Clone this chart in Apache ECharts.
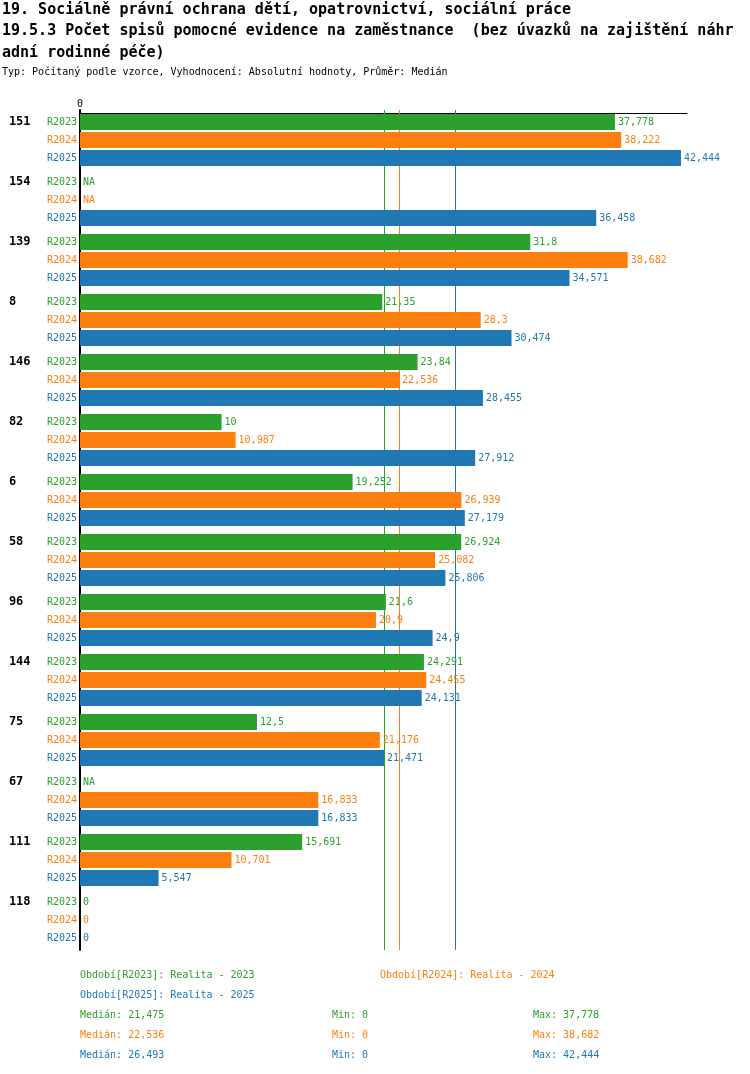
<!DOCTYPE html>
<html>
<head>
<meta charset="UTF-8">
<title>19.5.3</title>
<script src="https://cdn.jsdelivr.net/npm/echarts@6/dist/echarts.min.js"></script>
<style>
    *{ padding: 0; margin: 0; }
    html, body { background: #fff; }
    #main{ width: 750px; height: 1074px; }
</style>
</head>
<body>
<div id="main"></div>
<script>
// skupiny (shora dolu)
var categories = ['151', '154', '139', '8', '146', '82', '6', '58', '96', '144', '75', '67', '111', '118'];
var periods = ['R2023', 'R2024', 'R2025'];
// null = NA
var r2023 = [37.778, null, 31.8, 21.35, 23.84, 10, 19.252, 26.924, 21.6, 24.291, 12.5, null, 15.691, 0];
var r2024 = [38.222, null, 38.682, 28.3, 22.536, 10.987, 26.939, 25.082, 20.9, 24.455, 21.176, 16.833, 10.701, 0];
var r2025 = [42.444, 36.458, 34.571, 30.474, 28.455, 27.912, 27.179, 25.806, 24.9, 24.131, 21.471, 16.833, 5.547, 0];
var medians = [21.475, 22.536, 26.493];
var legendTexts = ['Období[R2023]: Realita - 2023', 'Období[R2024]: Realita - 2024', 'Období[R2025]: Realita - 2025'];

var colors = ['#2ca02c', '#ff7f0e', '#1f77b4'];
var MONO = '"DejaVu Sans Mono", monospace';
var seriesVals = [r2023, r2024, r2025];

function fmt(v) {
    return String(v).replace('.', ',');
}
function maxOf(arr) {
    var m = 0;
    for (var i = 0; i < arr.length; i++) {
        if (arr[i] !== null && arr[i] > m) m = arr[i];
    }
    return m;
}
var xMax = Math.max(maxOf(r2023), maxOf(r2024), maxOf(r2025)) * 1.01;

var myChart = echarts.init(document.getElementById('main'));

var series = [];
for (var s = 0; s < 3; s++) {
    series.push({
        name: periods[s],
        type: 'bar',
        z: 3,
        barWidth: 16,
        barGap: '12.5%',
        itemStyle: { color: colors[s] },
        label: {
            show: true,
            position: 'right',
            distance: 3,
            color: colors[s],
            fontFamily: MONO,
            fontSize: 10,
            formatter: function (p) { return fmt(p.value); }
        },
        // medianova cara pod sloupci
        markLine: {
            z: 1,
            silent: true,
            symbol: 'none',
            label: { show: false },
            lineStyle: { color: colors[s], type: 'solid', width: 1 },
            data: [{ xAxis: medians[s], lineStyle: { color: colors[s] } }]
        },
        data: seriesVals[s].map(function (v) {
            return v === null ? { value: 0, label: { formatter: 'NA' } } : v;
        })
    });
}

// popisky dole
var graphics = [];
function addText(x, y, text, color) {
    graphics.push({
        type: 'text', left: x, top: y,
        style: { text: text, fill: color, font: '10px ' + MONO }
    });
}
addText(80, 970, legendTexts[0], colors[0]);
addText(380, 970, legendTexts[1], colors[1]);
addText(80, 990, legendTexts[2], colors[2]);
for (var k = 0; k < 3; k++) {
    addText(80, 1010 + k * 20, 'Medián: ' + fmt(medians[k]), colors[k]);
    addText(332, 1010 + k * 20, 'Min: 0', colors[k]);
    addText(533, 1010 + k * 20, 'Max: ' + fmt(maxOf(seriesVals[k])), colors[k]);
}

var option = {
    animation: false,
    backgroundColor: '#fff',
    title: {
        text: '19. Sociálně právní ochrana dětí, opatrovnictví, sociální práce\n' +
              '19.5.3 Počet spisů pomocné evidence na zaměstnance  (bez úvazků na zajištění náhr\n' +
              'adní rodinné péče)',
        subtext: 'Typ: Počítaný podle vzorce, Vyhodnocení: Absolutní hodnoty, Průměr: Medián',
        left: 2,
        top: -1,
        padding: 0,
        itemGap: 2,
        textStyle: { fontFamily: MONO, fontSize: 15, fontWeight: 'bold', color: '#000', lineHeight: 21.5 },
        subtextStyle: { fontFamily: MONO, fontSize: 10, color: '#000', lineHeight: 14 }
    },
    grid: { left: 80, right: 63, top: 110, height: 840, containLabel: false },
    xAxis: {
        type: 'value',
        position: 'top',
        offset: -3,
        min: 0,
        max: xMax,
        interval: xMax,
        axisLine: { show: true, lineStyle: { color: '#000', width: 1 } },
        axisTick: { show: false },
        splitLine: { show: false },
        axisLabel: {
            margin: 4,
            fontFamily: MONO, fontSize: 10, color: '#000',
            formatter: function (v) { return v === 0 ? '0' : ''; }
        }
    },
    yAxis: {
        type: 'category',
        inverse: true,
        data: categories,
        axisLine: { show: true, lineStyle: { color: '#000', width: 2 } },
        axisTick: { show: false },
        axisLabel: {
            interval: 0,
            margin: 3,
            align: 'right',
            formatter: function (v) {
                return '{g|' + v + '}{a|R2023}\n{e| }{b|R2024}\n{e| }{c|R2025}';
            },
            rich: {
                g: { width: 38, align: 'left', fontFamily: MONO, fontSize: 12, fontWeight: 'bold', color: '#000', lineHeight: 18 },
                e: { width: 38, fontFamily: MONO, fontSize: 10, lineHeight: 18 },
                a: { fontFamily: MONO, fontSize: 10, color: colors[0], lineHeight: 18 },
                b: { fontFamily: MONO, fontSize: 10, color: colors[1], lineHeight: 18 },
                c: { fontFamily: MONO, fontSize: 10, color: colors[2], lineHeight: 18 }
            }
        }
    },
    series: series,
    graphic: graphics
};

myChart.setOption(option);
</script>
</body>
</html>
